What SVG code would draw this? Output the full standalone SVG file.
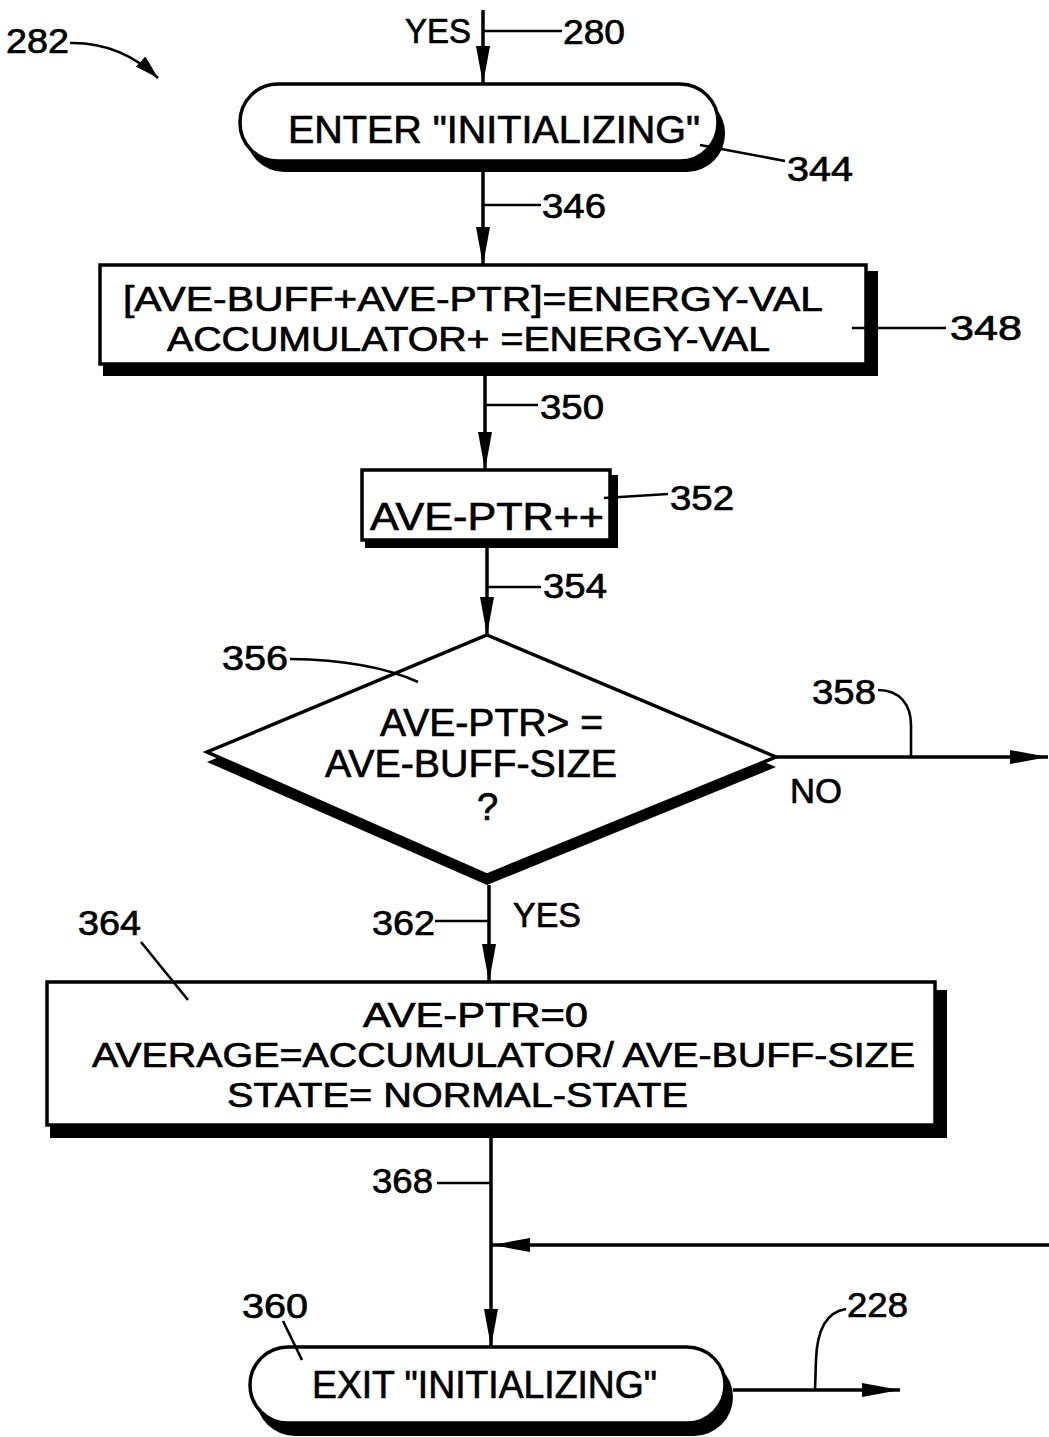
<svg xmlns="http://www.w3.org/2000/svg" width="1049" height="1437" viewBox="0 0 1049 1437">
<style>
  text { font-family: "Liberation Sans", Arial, sans-serif; fill: #000; stroke: #000; stroke-width: 0.7; }
  .lbl { font-size: 35px; }
  .main { font-size: 38px; }
  .multi { font-size: 35px; }
  .box { fill: #fff; stroke: #000; stroke-width: 3.5; }
  .shadow { fill: #000; stroke: none; }
  .flow { fill: none; stroke: #000; stroke-width: 3.5; }
  .lead { fill: none; stroke: #000; stroke-width: 2.6; }
</style>
<defs>
  <marker id="arr" markerUnits="userSpaceOnUse" markerWidth="40" markerHeight="16" refX="38" refY="7" orient="auto">
    <path d="M0,0 L38,7 L0,14 z" fill="#000"/>
  </marker>
  <marker id="arrs" markerUnits="userSpaceOnUse" markerWidth="30" markerHeight="16" refX="24" refY="7" orient="auto">
    <path d="M0,0 L24,7 L0,14 z" fill="#000"/>
  </marker>
</defs>
<rect width="1049" height="1437" fill="#fff"/>

<g id="connectors">
  <line class="flow" x1="483" y1="10" x2="483" y2="84" marker-end="url(#arr)"/>
  <line class="flow" x1="483" y1="172" x2="483" y2="265" marker-end="url(#arr)"/>
  <line class="flow" x1="485" y1="376" x2="485" y2="470" marker-end="url(#arr)"/>
  <line class="flow" x1="487" y1="548" x2="487" y2="635" marker-end="url(#arr)"/>
  <line class="flow" x1="489" y1="885" x2="489" y2="982" marker-end="url(#arr)"/>
  <line class="flow" x1="491" y1="1138" x2="491" y2="1347" marker-end="url(#arr)"/>
  <line class="flow" x1="776" y1="757" x2="1048" y2="757" marker-end="url(#arr)"/>
  <line class="flow" x1="1049" y1="1245" x2="492" y2="1245" marker-end="url(#arr)"/>
  <line class="flow" x1="733" y1="1390" x2="900" y2="1390" marker-end="url(#arr)"/>
  <path class="lead" d="M70,43 Q120,42 158,78" marker-end="url(#arrs)"/>
</g>

<g id="n344">
  <rect class="shadow" x="246" y="95" width="479" height="77" rx="38"/>
  <rect class="box" x="240" y="84" width="478" height="77" rx="38"/>
  <text class="main" x="288" y="143" textLength="412" lengthAdjust="spacingAndGlyphs">ENTER "INITIALIZING"</text>
</g>

<g id="n348">
  <rect class="shadow" x="103" y="271" width="775" height="105"/>
  <rect class="box" x="100" y="265" width="766" height="99"/>
  <text class="multi" x="123" y="311" textLength="700" lengthAdjust="spacingAndGlyphs">[AVE-BUFF+AVE-PTR]=ENERGY-VAL</text>
  <text class="multi" x="167" y="351" textLength="603" lengthAdjust="spacingAndGlyphs">ACCUMULATOR+ =ENERGY-VAL</text>
</g>

<g id="n352">
  <rect class="shadow" x="365" y="475" width="253" height="73"/>
  <rect class="box" x="362" y="470" width="248" height="70"/>
  <text class="main" x="370" y="530" textLength="234" lengthAdjust="spacingAndGlyphs">AVE-PTR++</text>
</g>

<g id="n356">
  <polygon class="shadow" points="487,645 776,767 487,885 207,762"/>
  <polygon class="box" points="487,635 776,757 487,875 207,752"/>
  <text class="main" x="380" y="736" textLength="223" lengthAdjust="spacingAndGlyphs">AVE-PTR&gt; =</text>
  <text class="main" x="325" y="777" textLength="292" lengthAdjust="spacingAndGlyphs">AVE-BUFF-SIZE</text>
  <text class="main" x="477" y="820">?</text>
</g>

<g id="n364">
  <rect class="shadow" x="50" y="990" width="897" height="148"/>
  <rect class="box" x="47" y="982" width="888" height="143"/>
  <text class="multi" x="363" y="1027" textLength="225" lengthAdjust="spacingAndGlyphs">AVE-PTR=0</text>
  <text class="multi" x="92" y="1067" textLength="823" lengthAdjust="spacingAndGlyphs">AVERAGE=ACCUMULATOR/ AVE-BUFF-SIZE</text>
  <text class="multi" x="227" y="1107" textLength="461" lengthAdjust="spacingAndGlyphs">STATE= NORMAL-STATE</text>
</g>

<g id="n360">
  <rect class="shadow" x="256" y="1358" width="477" height="78" rx="39"/>
  <rect class="box" x="250" y="1347" width="475" height="76" rx="38"/>
  <text class="main" x="312" y="1398" textLength="345" lengthAdjust="spacingAndGlyphs">EXIT "INITIALIZING"</text>
</g>

<g id="leaders">
  <line class="lead" x1="483" y1="31" x2="562" y2="31"/>
  <line class="lead" x1="483" y1="205" x2="541" y2="205"/>
  <line class="lead" x1="485" y1="405" x2="538" y2="405"/>
  <line class="lead" x1="487" y1="587" x2="541" y2="587"/>
  <line class="lead" x1="435" y1="921" x2="489" y2="921"/>
  <line class="lead" x1="437" y1="1183" x2="491" y2="1183"/>
  <line class="lead" x1="700" y1="145" x2="785" y2="161"/>
  <line class="lead" x1="852" y1="328" x2="946" y2="328"/>
  <line class="lead" x1="604" y1="498" x2="668" y2="494"/>
  <path class="lead" d="M290,659 Q370,660 418,682"/>
  <path class="lead" d="M878,690 C900,690 911,705 911,725 L911,757"/>
  <line class="lead" x1="141" y1="942" x2="188" y2="1000"/>
  <line class="lead" x1="283" y1="1321" x2="302" y2="1360"/>
  <path class="lead" d="M846,1309 C826,1312 817,1330 816,1360 L815,1390"/>
</g>

<g id="labels">
  <text class="lbl" x="6" y="53" textLength="63" lengthAdjust="spacingAndGlyphs">282</text>
  <text class="lbl" x="405" y="43" textLength="66" lengthAdjust="spacingAndGlyphs">YES</text>
  <text class="lbl" x="563" y="44" textLength="62" lengthAdjust="spacingAndGlyphs">280</text>
  <text class="lbl" x="787" y="181" textLength="66" lengthAdjust="spacingAndGlyphs">344</text>
  <text class="lbl" x="542" y="218" textLength="64" lengthAdjust="spacingAndGlyphs">346</text>
  <text class="lbl" x="950" y="340" textLength="72" lengthAdjust="spacingAndGlyphs">348</text>
  <text class="lbl" x="540" y="419" textLength="64" lengthAdjust="spacingAndGlyphs">350</text>
  <text class="lbl" x="670" y="510" textLength="64" lengthAdjust="spacingAndGlyphs">352</text>
  <text class="lbl" x="543" y="598" textLength="64" lengthAdjust="spacingAndGlyphs">354</text>
  <text class="lbl" x="222" y="670" textLength="66" lengthAdjust="spacingAndGlyphs">356</text>
  <text class="lbl" x="812" y="704" textLength="64" lengthAdjust="spacingAndGlyphs">358</text>
  <text class="lbl" x="790" y="803" textLength="52" lengthAdjust="spacingAndGlyphs">NO</text>
  <text class="lbl" x="372" y="935" textLength="63" lengthAdjust="spacingAndGlyphs">362</text>
  <text class="lbl" x="513" y="927" textLength="68" lengthAdjust="spacingAndGlyphs">YES</text>
  <text class="lbl" x="78" y="935" textLength="63" lengthAdjust="spacingAndGlyphs">364</text>
  <text class="lbl" x="372" y="1193" textLength="61" lengthAdjust="spacingAndGlyphs">368</text>
  <text class="lbl" x="242" y="1318" textLength="66" lengthAdjust="spacingAndGlyphs">360</text>
  <text class="lbl" x="847" y="1317" textLength="61" lengthAdjust="spacingAndGlyphs">228</text>
</g>
</svg>
